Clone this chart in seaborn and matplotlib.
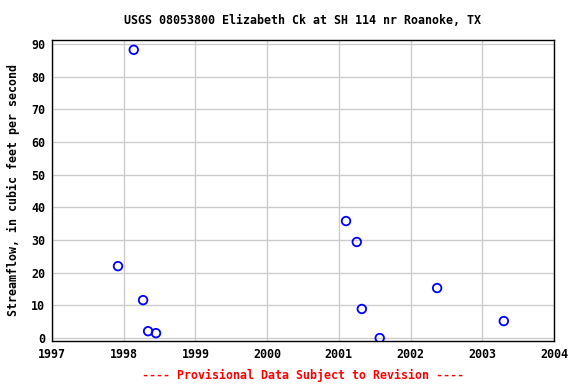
import matplotlib
matplotlib.use("Agg")
import matplotlib.pyplot as plt
import seaborn as sns
import pandas as pd

years = [1997.92, 1998.14, 1998.27, 1998.34, 1998.45, 2001.10, 2001.25, 2001.32, 2001.57, 2002.37, 2003.30]
flow = [22.0, 88.2, 11.6, 2.1, 1.5, 35.8, 29.4, 8.9, 0.0, 15.3, 5.2]
x_ticks = [1997, 1998, 1999, 2000, 2001, 2002, 2003, 2004]
y_ticks = [0, 10, 20, 30, 40, 50, 60, 70, 80, 90]

sns.set_style("white")
plt.rcParams['font.family'] = ['DejaVu Sans Mono']
plt.rcParams['font.weight'] = 'bold'
plt.rcParams['text.color'] = 'black'
plt.rcParams['axes.labelcolor'] = 'black'
plt.rcParams['xtick.color'] = 'black'
plt.rcParams['ytick.color'] = 'black'

df = pd.DataFrame({"year": years, "flow": flow})

FS = 8.4
fig = plt.figure(figsize=(5.76, 3.84), dpi=100)
ax = fig.add_axes([52/576, 1-341/384, (554-52)/576, (341-40)/384])
sns.scatterplot(data=df, x="year", y="flow", ax=ax, marker="o", s=38,
                facecolor="none", edgecolor="#0000ff", linewidth=1.3, zorder=3)
ax.set_xlim(1997, 2004)
ax.set_ylim(-0.9, 91.2)
ax.set_xticks(x_ticks)
ax.set_yticks(y_ticks)
ax.set_xticklabels([str(t) for t in x_ticks], fontsize=FS, fontweight='bold')
ax.set_yticklabels([str(t) for t in y_ticks], fontsize=FS, fontweight='bold')
ax.grid(True, color="#cccccc", linewidth=1)
ax.set_axisbelow(True)
for s in ax.spines.values():
    s.set_color("black")
    s.set_linewidth(1)
ax.tick_params(length=0, pad=5)
ax.set_xlabel("")
ax.set_ylabel("Streamflow, in cubic feet per second", fontsize=FS, fontweight='bold', labelpad=8)
cx = (52 + 554) / 2 / 576
fig.text(cx, 1-20/384, "USGS 08053800 Elizabeth Ck at SH 114 nr Roanoke, TX",
         ha="center", va="center", fontsize=FS, fontweight='bold', color='black')
fig.text(cx, 1-375/384, "---- Provisional Data Subject to Revision ----",
         ha="center", va="center", fontsize=FS, fontweight='bold', color="red")
fig.savefig("out.png", dpi=100)
